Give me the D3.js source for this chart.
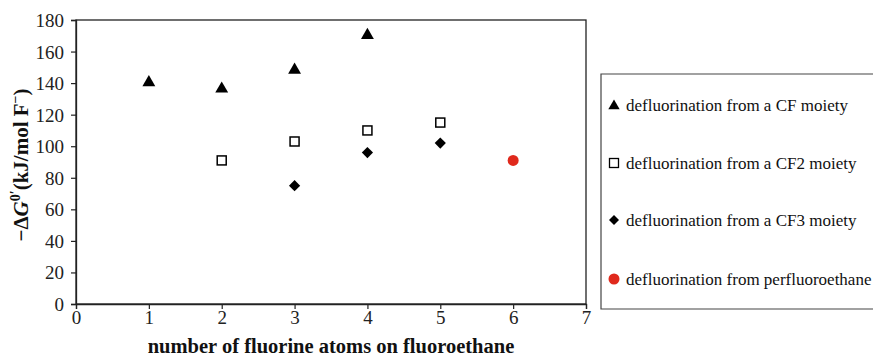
<!DOCTYPE html>
<html>
<head>
<meta charset="utf-8">
<script src="https://cdn.jsdelivr.net/npm/d3@7"></script>
<style>
  body { margin: 0; background: #fff; }
  svg { display: block; }
</style>
</head>
<body>
<svg id="chart" width="873" height="359"></svg>
<script>
// values
var cfX = [1, 2, 3, 4];
var cfY = [141, 137, 149, 171];
var cf2X = [2, 3, 4, 5];
var cf2Y = [91, 103, 110, 115];
var cf3X = [3, 4, 5];
var cf3Y = [75, 96, 102];
var perX = [6];
var perY = [91];
var seriesNames = [
  'defluorination from a CF moiety',
  'defluorination from a CF2 moiety',
  'defluorination from a CF3 moiety',
  'defluorination from perfluoroethane'
];
var xTicks = [0, 1, 2, 3, 4, 5, 6, 7];
var yTicks = [0, 20, 40, 60, 80, 100, 120, 140, 160, 180];

var serif = '"Liberation Serif", "Times New Roman", "DejaVu Serif", serif';
var svg = d3.select('#chart').attr('font-family', serif);
var plotL = 76, plotT = 20, plotR = 586, plotB = 304;

var x = d3.scaleLinear().domain([0, 7]).range([plotL, plotR]);
var y = d3.scaleLinear().domain([0, 180]).range([plotB, plotT]);

// plot frame
svg.append('rect')
  .attr('x', plotL).attr('y', plotT)
  .attr('width', plotR - plotL).attr('height', plotB - plotT)
  .attr('fill', 'none').attr('stroke', '#222').attr('stroke-width', 1.3);

var xAxis = svg.append('g')
  .attr('transform', 'translate(0,' + plotB + ')')
  .call(d3.axisBottom(x).tickValues(xTicks).tickSize(5).tickPadding(2).tickFormat(d3.format('d')));
var yAxis = svg.append('g')
  .attr('transform', 'translate(' + plotL + ',0)')
  .call(d3.axisLeft(y).tickValues(yTicks).tickSize(5).tickPadding(7).tickFormat(d3.format('d')));

[xAxis, yAxis].forEach(function(g){
  g.attr('font-family', serif).attr('font-size', 19);
  g.select('.domain').attr('stroke', '#222').attr('stroke-width', 1.3);
  g.selectAll('.tick line').attr('stroke', '#222').attr('stroke-width', 1.2);
  g.selectAll('.tick text').attr('fill', '#222');
});
yAxis.selectAll('.tick text').attr('dy', '0.34em');

// axis titles
svg.append('text')
  .attr('x', 331).attr('y', 353)
  .attr('text-anchor', 'middle')
  .attr('font-weight', 'bold').attr('font-size', 20.5)
  .attr('fill', '#111')
  .text('number of fluorine atoms on fluoroethane');

var yt = svg.append('text')
  .attr('transform', 'translate(28,165) rotate(-90)')
  .attr('text-anchor', 'middle')
  .attr('font-weight', 'bold').attr('font-size', 21)
  .attr('fill', '#111');
yt.append('tspan').text('\u2212\u0394');
yt.append('tspan').attr('font-style', 'italic').text('G');
yt.append('tspan').attr('dy', -8).attr('font-size', 14).text('0\u2032');
yt.append('tspan').attr('dy', 8).text('(kJ/mol F');
yt.append('tspan').attr('dy', -8).attr('font-size', 14).text('\u2212');
yt.append('tspan').attr('dy', 8).text(')');

// markers
var symTri = d3.symbol().type(d3.symbolTriangle).size(72);
var symDia = d3.symbol().type(d3.symbolDiamond2).size(80);

function zip(xs, ys){ return xs.map(function(v, i){ return [v, ys[i]]; }); }

svg.selectAll('.cf').data(zip(cfX, cfY)).enter()
  .append('path').attr('class', 'cf')
  .attr('d', symTri)
  .attr('transform', function(d){ return 'translate(' + x(d[0]) + ',' + (y(d[1]) + 1) + ')'; })
  .attr('fill', '#000');

svg.selectAll('.cf2').data(zip(cf2X, cf2Y)).enter()
  .append('rect').attr('class', 'cf2')
  .attr('x', function(d){ return x(d[0]) - 4.5; })
  .attr('y', function(d){ return y(d[1]) - 4.5; })
  .attr('width', 9).attr('height', 9)
  .attr('fill', '#fff').attr('stroke', '#000').attr('stroke-width', 1.5);

svg.selectAll('.cf3').data(zip(cf3X, cf3Y)).enter()
  .append('path').attr('class', 'cf3')
  .attr('d', symDia)
  .attr('transform', function(d){ return 'translate(' + x(d[0]) + ',' + y(d[1]) + ')'; })
  .attr('fill', '#000');

svg.selectAll('.per').data(zip(perX, perY)).enter()
  .append('circle').attr('class', 'per')
  .attr('cx', function(d){ return x(d[0]); })
  .attr('cy', function(d){ return y(d[1]); })
  .attr('r', 5.5)
  .attr('fill', '#e0291c');

// legend
var lg = svg.append('g');
lg.append('path')
  .attr('d', 'M880,74H601V309H880')
  .attr('fill', 'none').attr('stroke', '#444').attr('stroke-width', 1.2);

var rowY = [105, 163, 220, 279];
var mx = 614;
lg.append('path').attr('d', d3.symbol().type(d3.symbolTriangle).size(56))
  .attr('transform', 'translate(' + mx + ',' + (rowY[0] + 1) + ')').attr('fill', '#000');
lg.append('rect').attr('x', mx - 4.5).attr('y', rowY[1] - 4.5).attr('width', 9).attr('height', 9)
  .attr('fill', '#fff').attr('stroke', '#000').attr('stroke-width', 1.3);
lg.append('path').attr('d', d3.symbol().type(d3.symbolDiamond2).size(64))
  .attr('transform', 'translate(' + mx + ',' + rowY[2] + ')').attr('fill', '#000');
lg.append('circle').attr('cx', mx).attr('cy', rowY[3]).attr('r', 5.5).attr('fill', '#e0291c');

lg.selectAll('.lt').data(seriesNames).enter()
  .append('text').attr('class', 'lt')
  .attr('x', 626)
  .attr('y', function(d, i){ return rowY[i]; })
  .attr('dy', '0.33em')
  .attr('font-size', 17)
  .attr('fill', '#111')
  .text(function(d){ return d; });
</script>
</body>
</html>
